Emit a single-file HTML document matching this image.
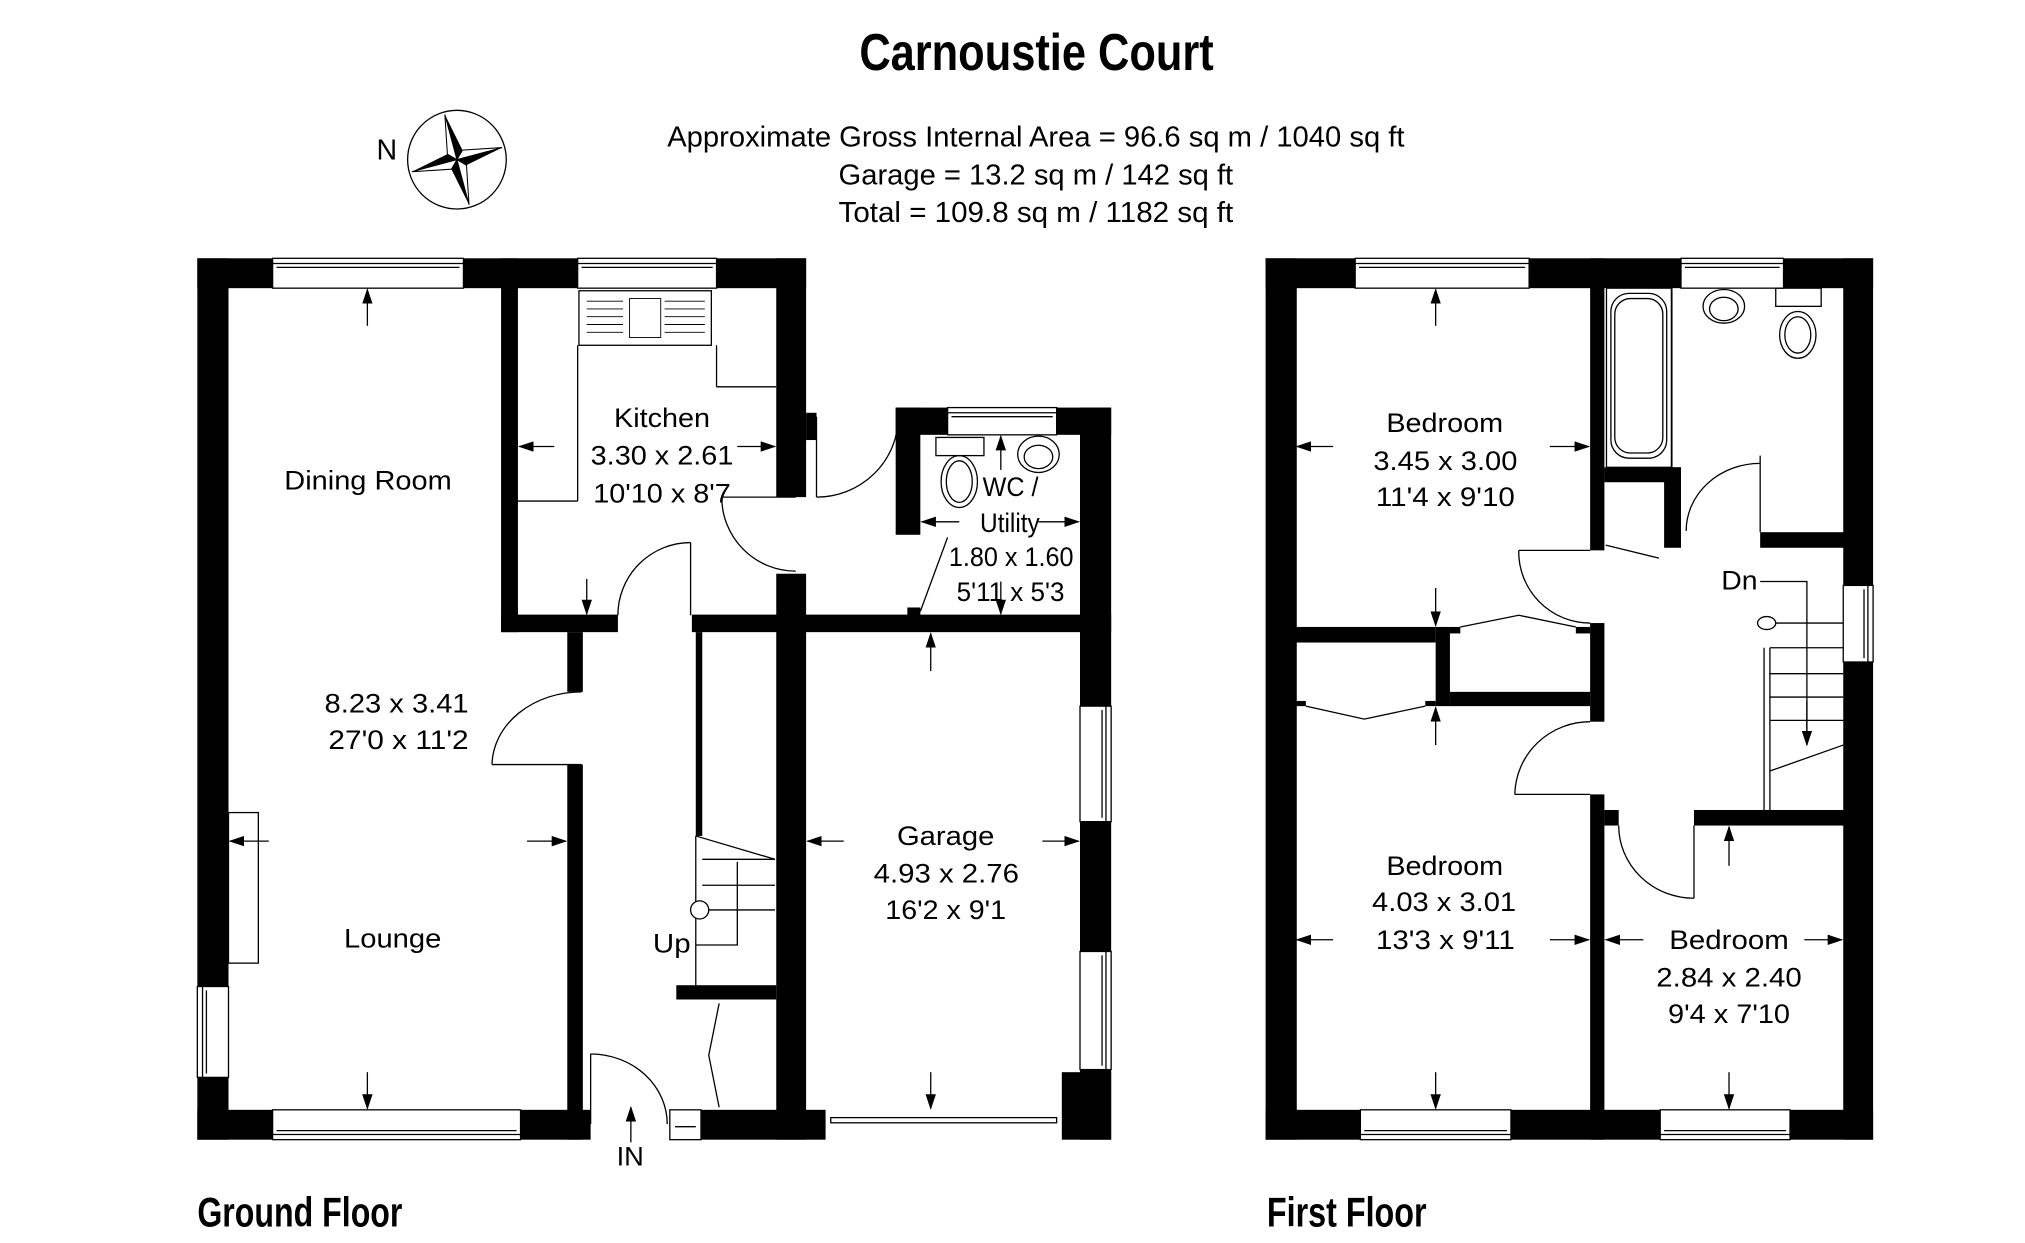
<!DOCTYPE html>
<html><head><meta charset="utf-8"><style>
html,body{margin:0;padding:0;background:#fff}
svg{display:block}
text{font-family:"Liberation Sans",Arial,sans-serif;fill:#000}
</style></head><body>
<svg xmlns="http://www.w3.org/2000/svg" width="2025" height="1243" viewBox="0 0 1560 957.6">
<defs>
<marker id="ah" markerUnits="userSpaceOnUse" markerWidth="12" markerHeight="8" refX="11" refY="4" orient="auto"><path d="M0,0 L12,4 L0,8 Z" fill="#000"/></marker>
</defs>
<rect width="1560" height="957.6" fill="#fff"/>

<!-- Title -->
<text x="662" y="54" font-size="40" font-weight="bold" textLength="273" lengthAdjust="spacingAndGlyphs">Carnoustie Court</text>
<text x="514" y="113" font-size="22" textLength="568" lengthAdjust="spacingAndGlyphs">Approximate Gross Internal Area = 96.6 sq m / 1040 sq ft</text>
<text x="646" y="142" font-size="22" textLength="304" lengthAdjust="spacingAndGlyphs">Garage = 13.2 sq m / 142 sq ft</text>
<text x="646" y="171" font-size="22" textLength="304" lengthAdjust="spacingAndGlyphs">Total = 109.8 sq m / 1182 sq ft</text>

<!-- Compass -->
<circle cx="352" cy="123" r="38" fill="#fff" stroke="#000" stroke-width="1"/>
<g transform="translate(352,123) rotate(-15)">
<path d="M0,-36 L6,-6 L0,0 Z" fill="#000"/><path d="M0,-36 L-6,-6 L0,0 Z" fill="#fff" stroke="#000" stroke-width="0.8"/>
<path d="M36,0 L6,6 L0,0 Z" fill="#000"/><path d="M36,0 L6,-6 L0,0 Z" fill="#fff" stroke="#000" stroke-width="0.8"/>
<path d="M0,36 L-6,6 L0,0 Z" fill="#000"/><path d="M0,36 L6,6 L0,0 Z" fill="#fff" stroke="#000" stroke-width="0.8"/>
<path d="M-36,0 L-6,-6 L0,0 Z" fill="#000"/><path d="M-36,0 L-6,6 L0,0 Z" fill="#fff" stroke="#000" stroke-width="0.8"/>
</g>
<text x="290" y="123" font-size="22">N</text>

<!-- ============ GROUND FLOOR ============ -->
<g fill="#000">
<rect x="152" y="199" width="469" height="23"/>
<rect x="152" y="199" width="24" height="679"/>
<rect x="152" y="855" width="303" height="23"/>
<rect x="386" y="199" width="13" height="288"/>
<rect x="386" y="473.5" width="90" height="13.5"/>
<rect x="437" y="487" width="12" height="46"/>
<rect x="437" y="589" width="12" height="289"/>
<rect x="533" y="473.5" width="323" height="13.5"/>
<rect x="598" y="199" width="23" height="184"/>
<rect x="621" y="318" width="8" height="21"/>
<rect x="598" y="442" width="23" height="436"/>
<rect x="536" y="487" width="5" height="157"/>
<rect x="521" y="759" width="77" height="11"/>
<rect x="540" y="855" width="96" height="23"/>
<rect x="832" y="314" width="24" height="564"/>
<rect x="818" y="826" width="38" height="52"/>
<rect x="690" y="314" width="166" height="21"/>
<rect x="690" y="314" width="19" height="98"/>
<rect x="699" y="468" width="10" height="6"/>
</g>
<g fill="#fff" stroke="#000" stroke-width="1">
<!-- windows -->
<rect x="210" y="199" width="147" height="23"/><line x1="210" y1="203" x2="357" y2="203"/><line x1="213" y1="206" x2="354" y2="206"/>
<rect x="445" y="199" width="107" height="23"/><line x1="445" y1="203" x2="552" y2="203"/><line x1="448" y1="206" x2="549" y2="206"/>
<rect x="210" y="855" width="191" height="23"/><line x1="210" y1="874" x2="401" y2="874"/><line x1="213" y1="871" x2="398" y2="871"/>
<rect x="152" y="760" width="24" height="70"/><line x1="156" y1="760" x2="156" y2="830"/><line x1="159" y1="763" x2="159" y2="827"/>
<rect x="832" y="544" width="24" height="89"/><line x1="852" y1="544" x2="852" y2="633"/><line x1="849" y1="547" x2="849" y2="630"/>
<rect x="832" y="733" width="24" height="91"/><line x1="852" y1="733" x2="852" y2="824"/><line x1="849" y1="736" x2="849" y2="821"/>
<rect x="730" y="314" width="84" height="21"/><line x1="730" y1="318" x2="814" y2="318"/><line x1="733" y1="321" x2="811" y2="321"/>
<rect x="516" y="855" width="24" height="23"/><line x1="520" y1="868" x2="536" y2="868"/>
<rect x="640" y="861" width="174" height="4"/>
</g>
<g fill="none" stroke="#000" stroke-width="1">
<!-- doors -->
<line x1="532" y1="418" x2="532" y2="474"/><path d="M532,418 A56,56 0 0 0 476,474"/>
<line x1="556" y1="383" x2="613" y2="383"/><path d="M556,383 A57,57 0 0 0 613,440"/>
<line x1="629" y1="321" x2="629" y2="383"/><path d="M629,383 A63,62 0 0 0 692,321"/>
<line x1="709" y1="471" x2="730" y2="414"/>
<line x1="379" y1="589" x2="448" y2="589"/><path d="M379,589 A69,57 0 0 1 448,533"/>
<line x1="455" y1="812" x2="455" y2="866"/><path d="M455,812 A59,54 0 0 1 514,866"/>
<polyline points="554,773 546,813 554,853"/>
<!-- stairs -->
<line x1="536" y1="644" x2="597" y2="662"/>
<line x1="541" y1="662" x2="597" y2="662"/><line x1="541" y1="682" x2="597" y2="682"/><line x1="541" y1="701" x2="597" y2="701"/>
<line x1="536" y1="644" x2="536" y2="759"/>
<circle cx="539" cy="701" r="7" fill="#fff"/>
<polyline points="536,728 568,728 568,664"/>
<!-- kitchen -->
<rect x="446" y="224" width="102" height="42"/>
<line x1="445" y1="266" x2="445" y2="386"/><line x1="399" y1="386" x2="445" y2="386"/>
<line x1="552" y1="266" x2="552" y2="298"/><line x1="552" y1="298" x2="598" y2="298"/>
<!-- fireplace -->
<rect x="176" y="626" width="23" height="116"/>
<!-- WC fittings -->
<rect x="721" y="337" width="37" height="14"/>
<ellipse cx="739" cy="371" rx="14" ry="20"/><ellipse cx="739" cy="371" rx="10" ry="16"/>
<ellipse cx="800" cy="350" rx="16" ry="14"/><ellipse cx="800" cy="352" rx="11" ry="9"/>
</g>
<g stroke="#000" stroke-width="0.7">
<line x1="452" y1="232" x2="480" y2="232"/><line x1="452" y1="238" x2="480" y2="238"/><line x1="452" y1="244" x2="480" y2="244"/><line x1="452" y1="250" x2="480" y2="250"/><line x1="452" y1="256" x2="480" y2="256"/>
<line x1="512" y1="232" x2="543" y2="232"/><line x1="512" y1="238" x2="543" y2="238"/><line x1="512" y1="244" x2="543" y2="244"/><line x1="512" y1="250" x2="543" y2="250"/><line x1="512" y1="256" x2="543" y2="256"/>
<rect x="485" y="230" width="24" height="30" fill="none"/>
</g>
<!-- GF dimension arrows -->
<g stroke="#000" stroke-width="1" marker-end="url(#ah)">
<line x1="283" y1="251" x2="283" y2="223"/>
<line x1="283" y1="826" x2="283" y2="854"/>
<line x1="207" y1="648" x2="177" y2="648"/>
<line x1="406" y1="648" x2="436" y2="648"/>
<line x1="427" y1="344" x2="400" y2="344"/>
<line x1="568" y1="344" x2="597" y2="344"/>
<line x1="452" y1="446" x2="452" y2="473"/>
<line x1="739" y1="402" x2="710" y2="402"/>
<line x1="800" y1="402" x2="831" y2="402"/>
<line x1="771" y1="362" x2="771" y2="336"/>
<line x1="771" y1="448" x2="771" y2="473"/>
<line x1="717" y1="517" x2="717" y2="488"/>
<line x1="717" y1="826" x2="717" y2="854"/>
<line x1="650" y1="648" x2="622" y2="648"/>
<line x1="803" y1="648" x2="831" y2="648"/>
<line x1="486" y1="880" x2="486" y2="853"/>
</g>
<g font-size="21">
<text x="219" y="377" textLength="129" lengthAdjust="spacingAndGlyphs">Dining Room</text>
<text x="473" y="329" textLength="74" lengthAdjust="spacingAndGlyphs">Kitchen</text>
<text x="455" y="358" textLength="110" lengthAdjust="spacingAndGlyphs">3.30 x 2.61</text>
<text x="457" y="387" textLength="106" lengthAdjust="spacingAndGlyphs">10'10 x 8'7</text>
<text x="757" y="382" textLength="43" lengthAdjust="spacingAndGlyphs">WC /</text>
<text x="755" y="410" textLength="46" lengthAdjust="spacingAndGlyphs">Utility</text>
<text x="731" y="436" textLength="96" lengthAdjust="spacingAndGlyphs">1.80 x 1.60</text>
<text x="737" y="463" textLength="83" lengthAdjust="spacingAndGlyphs">5'11 x 5'3</text>
<text x="250" y="549" textLength="111" lengthAdjust="spacingAndGlyphs">8.23 x 3.41</text>
<text x="253" y="577" textLength="108" lengthAdjust="spacingAndGlyphs">27'0 x 11'2</text>
<text x="691" y="651" textLength="75" lengthAdjust="spacingAndGlyphs">Garage</text>
<text x="673" y="680" textLength="112" lengthAdjust="spacingAndGlyphs">4.93 x 2.76</text>
<text x="682" y="708" textLength="93" lengthAdjust="spacingAndGlyphs">16'2 x 9'1</text>
<text x="265" y="730" textLength="75" lengthAdjust="spacingAndGlyphs">Lounge</text>
<text x="503" y="734" textLength="29" lengthAdjust="spacingAndGlyphs">Up</text>
<text x="475" y="898" textLength="21" lengthAdjust="spacingAndGlyphs">IN</text>
</g>
<text x="152" y="945" font-size="32" font-weight="bold" textLength="158" lengthAdjust="spacingAndGlyphs">Ground Floor</text>

<!-- ============ FIRST FLOOR ============ -->
<g fill="#000">
<rect x="975" y="199" width="468" height="23"/>
<rect x="975" y="199" width="24" height="679"/>
<rect x="1420" y="199" width="23" height="679"/>
<rect x="975" y="855" width="468" height="23"/>
<rect x="1225" y="199" width="11" height="225"/>
<rect x="1225" y="480" width="11" height="76"/>
<rect x="1225" y="612" width="11" height="266"/>
<rect x="1236" y="360" width="59" height="11.5"/>
<rect x="1282" y="360" width="13" height="62"/>
<rect x="1356" y="410" width="65" height="12"/>
<rect x="1305" y="624" width="116" height="12"/>
<rect x="1236" y="624" width="11" height="12"/>
<rect x="998" y="483" width="108" height="12"/>
<rect x="1106" y="483" width="11" height="61"/>
<rect x="1117" y="533" width="108" height="11"/>
<rect x="1117" y="483" width="8" height="5"/>
<rect x="1214" y="483" width="11" height="5"/>
<rect x="998" y="540" width="8" height="4"/>
<rect x="1098" y="540" width="8" height="4"/>
</g>
<g fill="#fff" stroke="#000" stroke-width="1">
<rect x="1044" y="199" width="134" height="23"/><line x1="1044" y1="203" x2="1178" y2="203"/><line x1="1047" y1="206" x2="1175" y2="206"/>
<rect x="1295" y="199" width="79" height="23"/><line x1="1295" y1="203" x2="1374" y2="203"/><line x1="1298" y1="206" x2="1371" y2="206"/>
<rect x="1048" y="855" width="116" height="23"/><line x1="1048" y1="874" x2="1164" y2="874"/><line x1="1051" y1="871" x2="1161" y2="871"/>
<rect x="1279" y="855" width="100" height="23"/><line x1="1279" y1="874" x2="1379" y2="874"/><line x1="1282" y1="871" x2="1376" y2="871"/>
<rect x="1420" y="451" width="23" height="59"/><line x1="1439" y1="451" x2="1439" y2="510"/><line x1="1436" y1="454" x2="1436" y2="507"/>
</g>
<g fill="none" stroke="#000" stroke-width="1">
<!-- bath -->
<rect x="1237.6" y="222" width="50" height="138"/>
<rect x="1241" y="226" width="43" height="127" rx="14"/>
<rect x="1244" y="230" width="37" height="119" rx="12"/>
<line x1="1288" y1="222" x2="1288" y2="360"/>
<ellipse cx="1328" cy="236" rx="16" ry="13"/><ellipse cx="1328" cy="238" rx="11" ry="9"/>
<rect x="1368" y="222" width="35" height="14"/>
<ellipse cx="1385" cy="258" rx="14" ry="18"/><ellipse cx="1385" cy="258" rx="10" ry="14"/>
<!-- landing lines -->
<line x1="1356" y1="351" x2="1356" y2="410"/>
<line x1="1237" y1="420" x2="1278" y2="430"/>
<!-- doors -->
<path d="M1299,409 A57,52 0 0 1 1356,357"/>
<line x1="1170" y1="424" x2="1225" y2="424"/><path d="M1170,424 A55,55 0 0 0 1225,480"/>
<line x1="1167" y1="612" x2="1225" y2="612"/><path d="M1167,612 A58,57 0 0 1 1225,556"/>
<line x1="1305" y1="636" x2="1305" y2="692"/><path d="M1247,636 A58,56 0 0 0 1305,692"/>
<polyline points="1125,483 1170,474 1214,483"/>
<polyline points="1006,544 1051,554 1098,544"/>
<!-- stairs -->
<line x1="1359" y1="499" x2="1359" y2="624"/><line x1="1363.5" y1="499" x2="1363.5" y2="624"/>
<line x1="1363.5" y1="480" x2="1420" y2="480"/><line x1="1363.5" y1="499" x2="1420" y2="499"/>
<line x1="1363.5" y1="519" x2="1420" y2="519"/><line x1="1363.5" y1="537" x2="1420" y2="537"/>
<line x1="1363.5" y1="555" x2="1420" y2="555"/>
<line x1="1363.5" y1="594" x2="1420" y2="574"/>
<ellipse cx="1361" cy="480" rx="7" ry="5" fill="#fff"/>
<polyline points="1356,448 1392,448 1392,572"/>
</g>
<g stroke="#000" stroke-width="1" marker-end="url(#ah)">
<line x1="1392" y1="540" x2="1392" y2="574"/>
<line x1="1106" y1="251" x2="1106" y2="223"/>
<line x1="1106" y1="453" x2="1106" y2="482"/>
<line x1="1027" y1="344" x2="999" y2="344"/>
<line x1="1194" y1="344" x2="1224" y2="344"/>
<line x1="1106" y1="574" x2="1106" y2="545"/>
<line x1="1106" y1="826" x2="1106" y2="854"/>
<line x1="1027" y1="724" x2="999" y2="724"/>
<line x1="1194" y1="724" x2="1224" y2="724"/>
<line x1="1332" y1="667" x2="1332" y2="637"/>
<line x1="1332" y1="826" x2="1332" y2="854"/>
<line x1="1266" y1="724" x2="1237" y2="724"/>
<line x1="1390" y1="724" x2="1419" y2="724"/>
</g>
<g font-size="21">
<text x="1068" y="333" textLength="90" lengthAdjust="spacingAndGlyphs">Bedroom</text>
<text x="1058" y="362" textLength="111" lengthAdjust="spacingAndGlyphs">3.45 x 3.00</text>
<text x="1060" y="390" textLength="107" lengthAdjust="spacingAndGlyphs">11'4 x 9'10</text>
<text x="1068" y="674" textLength="90" lengthAdjust="spacingAndGlyphs">Bedroom</text>
<text x="1057" y="702" textLength="111" lengthAdjust="spacingAndGlyphs">4.03 x 3.01</text>
<text x="1060" y="731" textLength="107" lengthAdjust="spacingAndGlyphs">13'3 x 9'11</text>
<text x="1286" y="731" textLength="92" lengthAdjust="spacingAndGlyphs">Bedroom</text>
<text x="1276" y="760" textLength="112" lengthAdjust="spacingAndGlyphs">2.84 x 2.40</text>
<text x="1285" y="788" textLength="94" lengthAdjust="spacingAndGlyphs">9'4 x 7'10</text>
<text x="1326" y="454" textLength="28" lengthAdjust="spacingAndGlyphs">Dn</text>
</g>
<text x="976" y="945" font-size="32" font-weight="bold" textLength="123" lengthAdjust="spacingAndGlyphs">First Floor</text>
</svg>
</body></html>
